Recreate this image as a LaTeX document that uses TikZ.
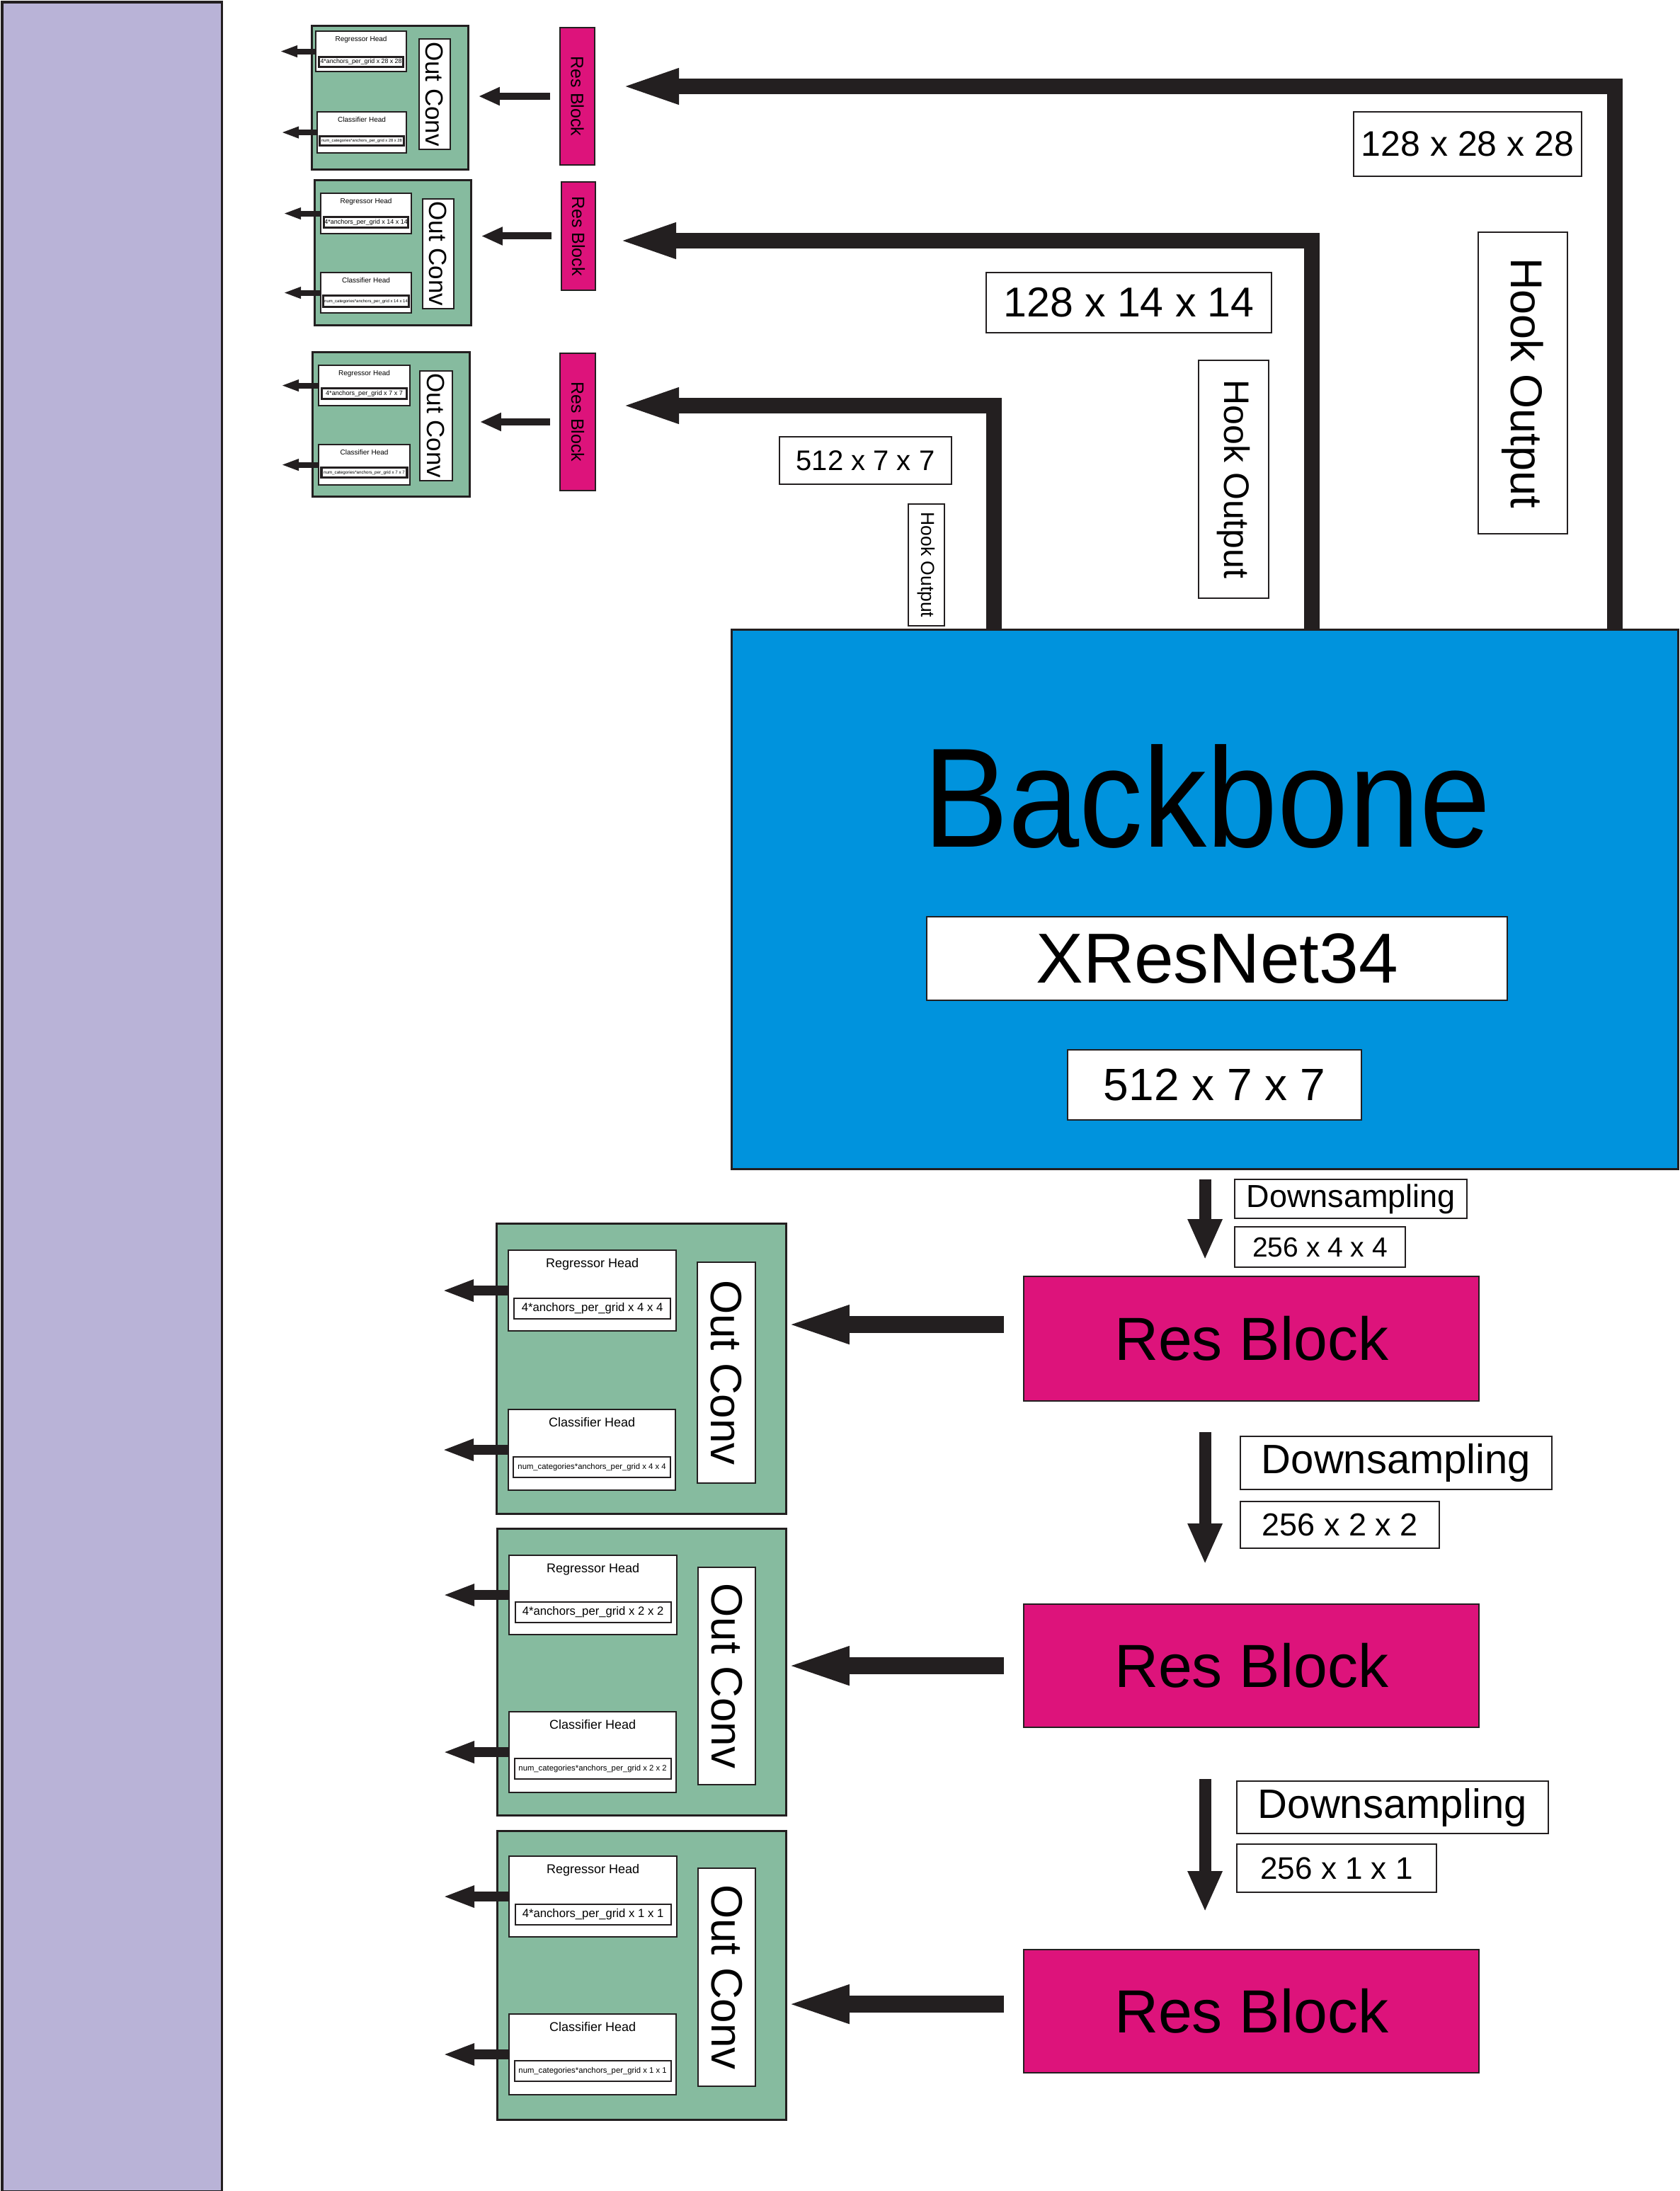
\documentclass[tikz,border=0pt]{standalone}
\usepackage{fontspec}
\setmainfont{Liberation Sans}
\newfontfamily\narrowfont[FakeStretch=0.9]{Liberation Sans}
\usetikzlibrary{positioning}
\usetikzlibrary{arrows.meta}

\definecolor{edgec}{HTML}{231F20}
\definecolor{barpurple}{HTML}{B9B3D7}
\definecolor{bbblue}{HTML}{0093DD}
\definecolor{resmag}{HTML}{DD137B}
\definecolor{outgreen}{HTML}{86BB9F}

% font size in pixels of the sheet (1px = 0.01cm)
\newcommand{\fpx}[1]{\fontsize{\fpeval{#1*0.28453}pt}{\fpeval{#1*0.34}pt}\selectfont}

\begin{document}
\begin{tikzpicture}[
    labelbox/.style={draw=edgec, fill=white, line width=0.6pt, inner sep=0pt},
    headbox/.style={draw=edgec, fill=white, line width=0.6pt, inner sep=0pt, anchor=north west},
    outbox/.style={draw=edgec, fill=outgreen, line width=0.8pt, inner sep=0pt, anchor=north west},
    resbox/.style={draw=edgec, fill=resmag, line width=0.6pt, inner sep=0pt},
    hook/.style={draw=edgec, line width=0.22cm, line join=miter, -{Triangle[length=0.86cm, width=0.44cm]}},
    feed/.style={draw=edgec, line width=0.24cm, -{Triangle[length=0.95cm, width=0.47cm]}},
    downarrow/.style={draw=edgec, line width=0.17cm, -{Triangle[length=0.58cm, width=0.45cm]}},
    smallfeed/.style={draw=edgec, line width=0.10cm, -{Triangle[length=0.30cm, width=0.24cm]}},
    headout/.style={draw=edgec, line width=0.14cm, -{Triangle[length=0.45cm, width=0.28cm]}},
    tinyout/.style={draw=edgec, line width=0.08cm, -{Triangle[length=0.25cm, width=0.15cm]}},
]
    \useasboundingbox (0,0) rectangle (23.72,-30.95);

    % side bar
    \node[draw=edgec, fill=barpurple, line width=0.9pt, inner sep=0pt, anchor=north west, minimum width=3.10cm, minimum height=30.92cm] (bar) at (0.015,-0.015) {};

    % Backbone
    \node[draw=edgec, fill=bbblue, line width=0.9pt, inner sep=0pt, anchor=north west, minimum width=13.37cm, minimum height=7.62cm] (backbone) at (10.32,-8.88) {};
    \node[font=\narrowfont\fpx{200}, inner sep=0pt, anchor=base] (bbtitle) at (17.05,-11.96) {Backbone};
    \node[labelbox, minimum width=8.20cm, minimum height=1.18cm, font=\fpx{100}] (xres) at (17.19,-13.54) {XResNet34};
    \node[labelbox, minimum width=4.15cm, minimum height=0.99cm, font=\fpx{64}] (bbsize) at (17.155,-15.325) {512 x 7 x 7};

    % hook outputs
    \node[labelbox, minimum width=3.22cm, minimum height=0.91cm, font=\fpx{50}] (lab28) at (20.73,-2.035) {128 x 28 x 28};
    \node[labelbox, rotate=-90, minimum width=4.26cm, minimum height=1.26cm, font=\fpx{63}] (hook28) at (21.51,-5.41) {Hook Output};
    \node[labelbox, minimum width=4.03cm, minimum height=0.85cm, font=\fpx{59}] (lab14) at (15.945,-4.275) {128 x 14 x 14};
    \node[labelbox, rotate=-90, minimum width=3.36cm, minimum height=0.99cm, font=\fpx{50}] (hook14) at (17.425,-6.77) {Hook Output};
    \node[labelbox, minimum width=2.43cm, minimum height=0.67cm, font=\fpx{40}] (lab7) at (12.225,-6.505) {512 x 7 x 7};
    \node[labelbox, rotate=-90, minimum width=1.72cm, minimum height=0.51cm, font=\fpx{26.5}] (hook7) at (13.085,-7.98) {Hook Output};

    % small Res Blocks
    \node[resbox, rotate=-90, minimum width=1.94cm, minimum height=0.49cm, font=\fpx{25}] (srb28) at (8.155,-1.36) {Res Block};
    \node[resbox, rotate=-90, minimum width=1.53cm, minimum height=0.48cm, font=\fpx{25}] (srb14) at (8.17,-3.335) {Res Block};
    \node[resbox, rotate=-90, minimum width=1.94cm, minimum height=0.50cm, font=\fpx{25}] (srb7) at (8.16,-5.96) {Res Block};

    \coordinate (tap28) at ([xshift=12.49cm]backbone.north west);
    \coordinate (tap14) at ([xshift=8.21cm]backbone.north west);
    \coordinate (tap7) at ([xshift=3.72cm]backbone.north west);
    \draw[hook] (tap28) |- ([xshift=0.32cm, yshift=0.14cm]srb28.north);
    \draw[hook] (tap14) |- ([xshift=0.27cm, yshift=-0.065cm]srb14.north);
    \draw[hook] (tap7) |- ([xshift=0.31cm, yshift=0.23cm]srb7.north);

    % Out Conv 28 x 28
    \node[outbox, minimum width=2.21cm, minimum height=2.03cm] (out28) at (4.39,-0.35) {};
    \node[headbox, minimum width=1.28cm, minimum height=0.57cm, below right=0.08cm and 0.06cm of out28.north west] (reg28) {};
    \node[font=\fpx{10}, inner sep=0pt, below=0.08cm of reg28.north] (regt28) {Regressor Head};
    \node[labelbox, line width=0.9pt, minimum width=1.19cm, minimum height=0.14cm, font=\fpx{8.8}, above=0.06cm of reg28.south] (regv28) {4*anchors\_per\_grid x 28 x 28};
    \node[headbox, minimum width=1.26cm, minimum height=0.58cm, below right=1.22cm and 0.08cm of out28.north west] (cls28) {};
    \node[font=\fpx{10}, inner sep=0pt, below=0.08cm of cls28.north] (clst28) {Classifier Head};
    \node[labelbox, line width=0.9pt, minimum width=1.19cm, minimum height=0.13cm, font=\fpx{5.8}, above=0.10cm of cls28.south] (clsv28) {num\_categories*anchors\_per\_grid x 28 x 28};
    \node[labelbox, rotate=-90, minimum width=1.56cm, minimum height=0.44cm, font=\fpx{35}] (conv28) at (6.14,-1.33) {Out Conv};
    \draw[smallfeed, shorten <=0.13cm, shorten >=0.13cm] (srb28.south) -- (srb28.south -| out28.east);
    \draw[tinyout] (reg28.west) -- ++(-0.50,0);
    \draw[tinyout] (cls28.west) -- ++(-0.50,0);

    % Out Conv 14 x 14
    \node[outbox, minimum width=2.21cm, minimum height=2.05cm] (out14) at (4.43,-2.53) {};
    \node[headbox, minimum width=1.28cm, minimum height=0.57cm, below right=0.19cm and 0.09cm of out14.north west] (reg14) {};
    \node[font=\fpx{10}, inner sep=0pt, below=0.08cm of reg14.north] (regt14) {Regressor Head};
    \node[labelbox, line width=0.9pt, minimum width=1.19cm, minimum height=0.15cm, font=\fpx{9}, above=0.08cm of reg14.south] (regv14) {4*anchors\_per\_grid x 14 x 14};
    \node[headbox, minimum width=1.28cm, minimum height=0.57cm, below right=1.31cm and 0.09cm of out14.north west] (cls14) {};
    \node[font=\fpx{10}, inner sep=0pt, below=0.08cm of cls14.north] (clst14) {Classifier Head};
    \node[labelbox, line width=0.9pt, minimum width=1.21cm, minimum height=0.16cm, font=\fpx{6}, above=0.08cm of cls14.south] (clsv14) {num\_categories*anchors\_per\_grid x 14 x 14};
    \node[labelbox, rotate=-90, minimum width=1.55cm, minimum height=0.44cm, font=\fpx{35}] (conv14) at (6.19,-3.585) {Out Conv};
    \draw[smallfeed, shorten <=0.13cm, shorten >=0.13cm] (srb14.south) -- (srb14.south -| out14.east);
    \draw[tinyout] (reg14.west) -- ++(-0.52,0);
    \draw[tinyout] (cls14.west) -- ++(-0.52,0);

    % Out Conv 7 x 7
    \node[outbox, minimum width=2.22cm, minimum height=2.04cm] (out7) at (4.40,-4.96) {};
    \node[headbox, minimum width=1.29cm, minimum height=0.57cm, below right=0.19cm and 0.09cm of out7.north west] (reg7) {};
    \node[font=\fpx{10}, inner sep=0pt, below=0.08cm of reg7.north] (regt7) {Regressor Head};
    \node[labelbox, line width=0.9pt, minimum width=1.20cm, minimum height=0.15cm, font=\fpx{9.1}, above=0.09cm of reg7.south] (regv7) {4*anchors\_per\_grid x 7 x 7};
    \node[headbox, minimum width=1.29cm, minimum height=0.57cm, below right=1.31cm and 0.09cm of out7.north west] (cls7) {};
    \node[font=\fpx{10}, inner sep=0pt, below=0.08cm of cls7.north] (clst7) {Classifier Head};
    \node[labelbox, line width=0.9pt, minimum width=1.21cm, minimum height=0.14cm, font=\fpx{6.2}, above=0.10cm of cls7.south] (clsv7) {num\_categories*anchors\_per\_grid x 7 x 7};
    \node[labelbox, rotate=-90, minimum width=1.55cm, minimum height=0.46cm, font=\fpx{35}] (conv7) at (6.16,-6.015) {Out Conv};
    \draw[smallfeed, shorten <=0.13cm, shorten >=0.13cm] (srb7.south) -- (srb7.south -| out7.east);
    \draw[tinyout] (reg7.west) -- ++(-0.52,0);
    \draw[tinyout] (cls7.west) -- ++(-0.52,0);

    % big Res Blocks with downsampling
    \node[resbox, anchor=north west, minimum width=6.43cm, minimum height=1.76cm, font=\fpx{86}] (rb4) at (14.45,-18.02) {Res Block};
    \node[resbox, anchor=north west, minimum width=6.43cm, minimum height=1.74cm, font=\fpx{86}] (rb2) at (14.45,-22.65) {Res Block};
    \node[resbox, anchor=north west, minimum width=6.43cm, minimum height=1.74cm, font=\fpx{86}] (rb1) at (14.45,-27.53) {Res Block};

    \node[labelbox, anchor=north west, minimum width=3.28cm, minimum height=0.55cm, font=\fpx{45}] (ds4) at (17.43,-16.65) {Downsampling};
    \node[labelbox, below=0.10cm of ds4.south west, anchor=north west, minimum width=2.41cm, minimum height=0.57cm, font=\fpx{39}] (sz4) {256 x 4 x 4};
    \node[labelbox, anchor=north west, minimum width=4.40cm, minimum height=0.75cm, font=\fpx{58}] (ds2) at (17.51,-20.28) {Downsampling};
    \node[labelbox, below=0.15cm of ds2.south west, anchor=north west, minimum width=2.81cm, minimum height=0.66cm, font=\fpx{45}] (sz2) {256 x 2 x 2};
    \node[labelbox, anchor=north west, minimum width=4.40cm, minimum height=0.74cm, font=\fpx{58}] (ds1) at (17.46,-25.15) {Downsampling};
    \node[labelbox, below=0.13cm of ds1.south west, anchor=north west, minimum width=2.82cm, minimum height=0.68cm, font=\fpx{44}] (sz1) {256 x 1 x 1};

    \draw[downarrow, shorten <=0.13cm, shorten >=0.22cm] (backbone.south) -- (backbone.south |- rb4.north);
    \draw[downarrow, shorten <=0.43cm, shorten >=0.55cm] (backbone.south |- rb4.south) -- (backbone.south |- rb2.north);
    \draw[downarrow, shorten <=0.72cm, shorten >=0.52cm] (backbone.south |- rb2.south) -- (backbone.south |- rb1.north);

    % Out Conv 4 x 4
    \node[outbox, minimum width=4.09cm, minimum height=4.10cm] (out4) at (7.00,-17.27) {};
    \node[headbox, minimum width=2.37cm, minimum height=1.14cm, below right=0.38cm and 0.17cm of out4.north west] (reg4) {};
    \node[font=\fpx{18}, inner sep=0pt, below=0.12cm of reg4.north] (regt4) {Regressor Head};
    \node[labelbox, minimum width=2.21cm, minimum height=0.29cm, font=\fpx{16.7}, above=0.17cm of reg4.south] (regv4) {4*anchors\_per\_grid x 4 x 4};
    \node[headbox, minimum width=2.36cm, minimum height=1.14cm, below right=2.63cm and 0.17cm of out4.north west] (cls4) {};
    \node[font=\fpx{18}, inner sep=0pt, below=0.12cm of cls4.north] (clst4) {Classifier Head};
    \node[labelbox, minimum width=2.22cm, minimum height=0.29cm, font=\fpx{11.3}, above=0.18cm of cls4.south] (clsv4) {num\_categories*anchors\_per\_grid x 4 x 4};
    \node[labelbox, rotate=-90, minimum width=3.12cm, minimum height=0.82cm, font=\fpx{62}] (conv4) at (10.26,-19.39) {Out Conv};
    \draw[feed, shorten <=0.27cm, shorten >=-0.07cm] ([yshift=0.2cm]rb4.west) -- ([yshift=0.2cm]rb4.west -| out4.east);
    \draw[headout] (reg4.west) -- ++(-0.93,0);
    \draw[headout] (cls4.west) -- ++(-0.93,0);

    % Out Conv 2 x 2
    \node[outbox, minimum width=4.08cm, minimum height=4.05cm] (out2) at (7.01,-21.58) {};
    \node[headbox, minimum width=2.37cm, minimum height=1.12cm, below right=0.38cm and 0.17cm of out2.north west] (reg2) {};
    \node[font=\fpx{18}, inner sep=0pt, below=0.12cm of reg2.north] (regt2) {Regressor Head};
    \node[labelbox, minimum width=2.20cm, minimum height=0.29cm, font=\fpx{16.7}, above=0.17cm of reg2.south] (regv2) {4*anchors\_per\_grid x 2 x 2};
    \node[headbox, minimum width=2.36cm, minimum height=1.14cm, below right=2.59cm and 0.17cm of out2.north west] (cls2) {};
    \node[font=\fpx{18}, inner sep=0pt, below=0.12cm of cls2.north] (clst2) {Classifier Head};
    \node[labelbox, minimum width=2.21cm, minimum height=0.29cm, font=\fpx{11.3}, above=0.19cm of cls2.south] (clsv2) {num\_categories*anchors\_per\_grid x 2 x 2};
    \node[labelbox, rotate=-90, minimum width=3.07cm, minimum height=0.81cm, font=\fpx{62}] (conv2) at (10.265,-23.675) {Out Conv};
    \draw[feed, shorten <=0.27cm, shorten >=-0.07cm] (rb2.west) -- (rb2.west -| out2.east);
    \draw[headout] (reg2.west) -- ++(-0.93,0);
    \draw[headout] (cls2.west) -- ++(-0.93,0);

    % Out Conv 1 x 1
    \node[outbox, minimum width=4.08cm, minimum height=4.08cm] (out1) at (7.01,-25.85) {};
    \node[headbox, minimum width=2.37cm, minimum height=1.14cm, below right=0.36cm and 0.17cm of out1.north west] (reg1) {};
    \node[font=\fpx{18}, inner sep=0pt, below=0.12cm of reg1.north] (regt1) {Regressor Head};
    \node[labelbox, minimum width=2.20cm, minimum height=0.29cm, font=\fpx{16.7}, above=0.17cm of reg1.south] (regv1) {4*anchors\_per\_grid x 1 x 1};
    \node[headbox, minimum width=2.36cm, minimum height=1.14cm, below right=2.59cm and 0.17cm of out1.north west] (cls1) {};
    \node[font=\fpx{18}, inner sep=0pt, below=0.12cm of cls1.north] (clst1) {Classifier Head};
    \node[labelbox, minimum width=2.21cm, minimum height=0.29cm, font=\fpx{11.3}, above=0.19cm of cls1.south] (clsv1) {num\_categories*anchors\_per\_grid x 1 x 1};
    \node[labelbox, rotate=-90, minimum width=3.08cm, minimum height=0.81cm, font=\fpx{62}] (conv1) at (10.265,-27.93) {Out Conv};
    \draw[feed, shorten <=0.27cm, shorten >=-0.07cm] ([yshift=0.1cm]rb1.west) -- ([yshift=0.1cm]rb1.west -| out1.east);
    \draw[headout] (reg1.west) -- ++(-0.93,0);
    \draw[headout] (cls1.west) -- ++(-0.93,0);

\end{tikzpicture}
\end{document}
